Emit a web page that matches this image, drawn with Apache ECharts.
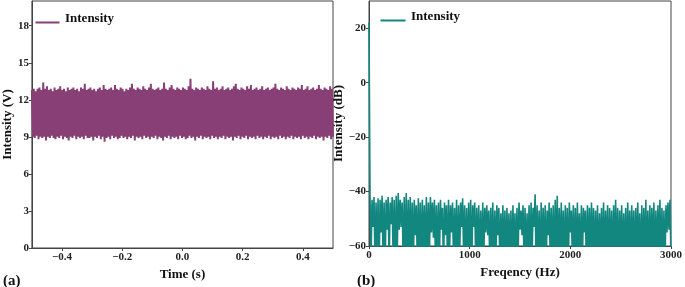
<!DOCTYPE html>
<html><head><meta charset="utf-8">
<script src="https://cdn.jsdelivr.net/npm/echarts@6/dist/echarts.min.js"></script>
<style>html,body{margin:0;padding:0;background:#fff}#c{width:685px;height:287px}</style>
</head><body><div id="c"></div>
<script>
// Panel (a): time-domain signal, upper and lower excursions of each oscillation (V)
const timeRange = [-0.5, 0.5];
const voltHigh = [
12.8,12.9,12.7,12.9,13.0,12.8,13.4,12.9,13.1,12.8,
12.9,12.7,13.0,12.8,12.9,13.1,12.8,12.9,12.7,13.0,
12.8,12.9,13.0,12.8,12.9,12.7,13.0,12.9,13.3,12.8,
12.9,13.0,12.8,12.9,12.7,12.9,13.0,12.8,13.2,12.9,
12.8,12.9,13.0,12.8,13.2,12.9,12.8,13.0,12.9,12.7,
12.9,12.8,13.0,13.3,12.9,12.8,13.0,12.9,12.8,13.1,
12.9,12.8,13.0,13.3,12.9,12.8,12.9,13.0,12.8,12.9,
13.4,12.9,12.8,13.0,13.2,12.9,12.8,13.0,12.9,12.8,
13.0,12.9,12.8,13.1,13.7,12.9,12.8,13.0,12.9,12.8,
13.0,12.9,12.8,13.1,12.9,12.8,13.5,12.9,13.0,12.8,
12.9,13.1,12.8,12.9,13.0,12.8,12.9,13.1,13.3,12.9,
12.8,13.0,12.9,12.8,13.1,12.9,13.2,12.8,12.9,13.0,
12.8,12.9,13.1,12.8,12.9,13.0,12.8,12.9,13.0,13.3,
12.9,12.8,13.0,12.9,12.8,13.1,12.9,12.8,13.0,12.9,
12.8,13.0,12.9,13.2,12.8,12.9,13.1,12.8,12.9,13.0,
12.8,12.9,13.2,12.9,12.8,13.0,12.9,12.8,13.1,12.9];
const voltLow = [
9.0,8.9,9.1,8.8,9.0,8.9,9.0,8.7,9.0,8.9,
9.1,8.9,8.8,9.0,8.9,9.1,8.8,9.0,8.9,8.7,
9.0,8.9,9.1,8.8,9.0,8.9,9.0,8.8,9.1,8.9,
8.9,9.0,8.7,9.0,8.9,9.1,8.8,9.0,8.6,8.9,
9.0,8.8,9.1,8.9,9.0,8.8,8.9,9.1,8.9,9.0,
8.8,9.0,8.9,9.1,8.7,9.0,8.9,9.0,8.8,9.1,
8.9,9.0,8.8,9.0,8.9,9.1,8.8,9.0,8.9,8.7,
9.0,8.9,9.1,8.8,9.0,8.9,9.0,8.8,9.1,8.9,
9.0,8.8,8.9,9.1,8.9,9.0,8.7,9.0,8.9,9.1,
8.8,9.0,8.9,9.0,8.8,9.1,8.9,9.0,8.8,9.0,
8.9,9.1,8.8,9.0,8.9,9.0,8.7,9.0,8.9,9.1,
8.8,9.0,8.9,9.1,8.8,9.0,8.9,9.0,8.8,9.1,
8.9,9.0,8.8,9.0,8.9,9.1,8.8,9.0,8.9,9.0,
8.8,9.1,8.9,9.0,8.8,9.0,8.9,9.1,8.8,9.0,
8.9,9.0,8.8,9.1,8.9,9.0,8.8,9.0,8.9,9.1,
8.8,9.0,8.9,9.0,8.7,9.0,8.9,9.1,8.8,9.0];
const timeTicks = [-0.4, -0.2, 0.0, 0.2, 0.4];

// Panel (b): spectrum, DC level then peak/trough of each frequency bin pair (dB)
const freqMax = 3000;
const dcLevel = 22;
const specHigh = [
-41,-43,-42,-44,-42.5,-43,-41.5,-44,-43,-42,
-44,-42,-43,-41.5,-40.5,-43,-44,-42,-40.5,-43,
-42,-44,-43,-45,-42.5,-44,-43,-45,-42,-44,
-42,-44,-43,-45,-44,-43,-46,-44,-45,-43,
-45,-44,-46,-43,-45,-44,-42.5,-45,-46,-44,
-43,-45,-44,-46,-45,-47,-44,-46,-45,-47,
-46,-44,-47,-45,-46,-48,-45,-47,-46,-48,
-47,-45,-48,-46,-44,-47,-45,-46,-48,-45,
-44,-46,-41,-45,-47,-44,-46,-45,-47,-44,
-46,-45,-43,-41.5,-46,-44,-47,-45,-46,-44,
-47,-45,-46,-44,-48,-45,-46,-47,-45,-46,
-44,-46,-47,-45,-48,-46,-44,-47,-45,-46,
-47,-45,-43,-46,-47,-45,-48,-46,-44,-47,
-45,-47,-46,-44,-48,-45,-46,-43,-47,-45,
-46,-44,-47,-45,-43,-46,-47,-45,-44,-43];
const specLow = [
-66,-53,-68,-64,-70,-55,-65,-69,-54,-67,
-52,-66,-70,-64,-54,-53,-68,-65,-71,-66,
-64,-69,-56,-67,-65,-70,-63,-68,-66,-64,
-55,-57,-66,-69,-65,-54,-70,-56,-67,-64,
-55,-68,-65,-70,-66,-53,-64,-69,-67,-65,
-70,-53,-66,-64,-68,-69,-65,-55,-56,-67,
-64,-70,-66,-56,-68,-65,-67,-69,-64,-66,
-70,-65,-68,-67,-54,-56,-66,-69,-65,-67,
-64,-53,-68,-66,-70,-65,-67,-69,-56,-64,
-66,-70,-65,-68,-67,-64,-69,-66,-70,-55,
-64,-67,-69,-65,-68,-66,-55,-70,-64,-67,
-65,-69,-66,-70,-64,-68,-67,-65,-69,-66,
-70,-64,-67,-68,-65,-69,-66,-70,-64,-67,
-65,-69,-66,-64,-70,-67,-68,-65,-69,-66,
-64,-70,-67,-65,-68,-66,-69,-55,-54,-66];

// build series data from arrays
const dataA = [];
const nA = voltHigh.length * 2;
for (let i = 0; i < voltHigh.length; i++) {
  const t1 = timeRange[0] + (timeRange[1] - timeRange[0]) * (2 * i) / (nA - 1);
  const t2 = timeRange[0] + (timeRange[1] - timeRange[0]) * (2 * i + 1) / (nA - 1);
  dataA.push([t1, voltHigh[i]]);
  dataA.push([t2, voltLow[i]]);
}
const dataB = [[0, dcLevel]];
const nB = specHigh.length * 2;
for (let i = 0; i < specHigh.length; i++) {
  dataB.push([freqMax * (2 * i + 1) / nB, specHigh[i]]);
  dataB.push([freqMax * (2 * i + 2) / nB, specLow[i]]);
}

const FONT = 'Liberation Serif';
const minus = v => String(v).replace('-', '\u2212');
const axisLbl = {fontFamily: FONT, fontWeight: 'bold', fontSize: 11, color: '#222', showMaxLabel: false};
const nameStyle = {fontFamily: FONT, fontWeight: 'bold', fontSize: 13, color: '#111'};
const axLine = {show: true, onZero: false, lineStyle: {color: '#444', width: 1}};
const tick = {show: true, inside: false, length: 3, lineStyle: {color: '#444'}};
const PURPLE = '#883f76', TEAL = '#12877f';

const chart = echarts.init(document.getElementById('c'), null, {renderer: 'canvas'});
chart.setOption({
  animation: false,
  backgroundColor: '#fff',
  grid: [
    {left: 26, right: 352, top: 1, bottom: 39, show: true, borderColor: '#444', borderWidth: 1, containLabel: false},
    {left: 369, right: 12, top: 1, bottom: 41, show: true, borderColor: '#444', borderWidth: 1, containLabel: false}
  ],
  xAxis: [
    {type: 'value', gridIndex: 0, min: timeRange[0], max: timeRange[1],
     name: 'Time (s)', nameLocation: 'middle', nameGap: 9, nameTextStyle: nameStyle,
     axisLine: axLine, splitLine: {show: false},
     axisTick: Object.assign({}, tick, {customValues: timeTicks}),
     axisLabel: Object.assign({}, axisLbl, {customValues: timeTicks, showMaxLabel: true, showMinLabel: true, margin: 4, formatter: v => minus(v.toFixed(1))})},
    {type: 'value', gridIndex: 1, min: 0, max: freqMax, interval: 1000,
     name: 'Freqency (Hz)', nameLocation: 'middle', nameGap: 12, nameTextStyle: nameStyle,
     axisLine: axLine, splitLine: {show: false}, axisTick: tick,
     axisLabel: Object.assign({}, axisLbl, {margin: 4, showMaxLabel: true, formatter: v => String(v)})}
  ],
  yAxis: [
    {type: 'value', gridIndex: 0, min: 0, max: 20, interval: 3,
     name: 'Intensity (V)', nameLocation: 'middle', nameGap: 16, nameTextStyle: nameStyle,
     axisLine: axLine, splitLine: {show: false}, axisTick: tick,
     axisLabel: Object.assign({}, axisLbl, {margin: 3})},
    {type: 'value', gridIndex: 1, min: -60, max: 30, interval: 20,
     name: 'Intensity (dB)', nameLocation: 'middle', nameGap: 16, nameTextStyle: nameStyle,
     axisLine: axLine, splitLine: {show: false}, axisTick: tick,
     axisLabel: Object.assign({}, axisLbl, {margin: 3, formatter: v => minus(v)})}
  ],
  series: [
    {name: 'Intensity', type: 'line', xAxisIndex: 0, yAxisIndex: 0, data: dataA,
     symbol: 'none', lineStyle: {color: PURPLE, width: 2}, itemStyle: {color: PURPLE}, clip: true},
    {name: 'Intensity ', type: 'line', xAxisIndex: 1, yAxisIndex: 1, data: dataB,
     symbol: 'none', lineStyle: {color: TEAL, width: 1.6}, itemStyle: {color: TEAL}, clip: true}
  ],
  graphic: [
    {type: 'line', left: 33, top: 20, shape: {x1: 0, y1: 0, x2: 24, y2: 0}, style: {stroke: PURPLE, lineWidth: 2}},
    {type: 'text', left: 65, top: 12, style: {text: 'Intensity', fill: '#111', font: 'bold 13px "Liberation Serif"'}},
    {type: 'line', left: 378, top: 18, shape: {x1: 0, y1: 0, x2: 25, y2: 0}, style: {stroke: TEAL, lineWidth: 2}},
    {type: 'text', left: 411, top: 10, style: {text: 'Intensity', fill: '#111', font: 'bold 13px "Liberation Serif"'}},
    {type: 'text', left: 3, top: 274, style: {text: '(a)', fill: '#111', font: 'bold 15px "Liberation Serif"'}},
    {type: 'text', left: 357, top: 274, style: {text: '(b)', fill: '#111', font: 'bold 15px "Liberation Serif"'}}
  ]
});
</script></body></html>
